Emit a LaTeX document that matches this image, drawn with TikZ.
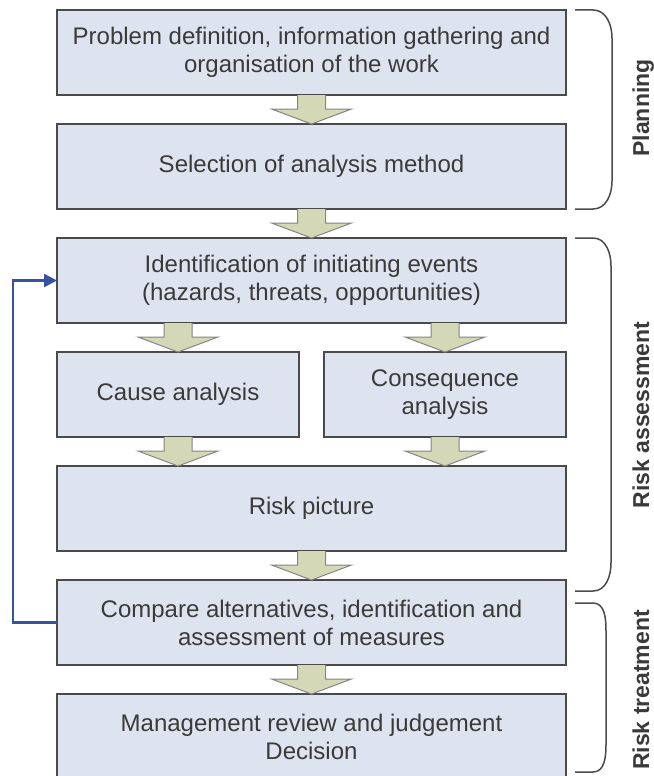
\documentclass[tikz,border=0pt]{standalone}
\usepackage{fontspec}
\setmainfont{Liberation Sans}
\usetikzlibrary{positioning,calc,arrows.meta}

\definecolor{boxfill}{HTML}{DDE4EF}
\definecolor{boxline}{HTML}{4A4A4A}
\definecolor{arrowfill}{HTML}{D5D8B7}
\definecolor{arrowline}{HTML}{858585}
\definecolor{loopblue}{HTML}{3553A0}
\definecolor{textgrey}{HTML}{3A3A3A}

% fat arrow between two boxes: column node, from, to
\newcommand{\blockarrow}[3]{%
  \filldraw[block arrow] ($(#1 |- #2.south)+(-14,0)$) -- ($(#1 |- #3.north)+(-14,-15)$)
    -- ($(#1 |- #3.north)+(-40,-15)$) -- (#1 |- #3.north) -- ($(#1 |- #3.north)+(40,-15)$)
    -- ($(#1 |- #3.north)+(14,-15)$) -- ($(#1 |- #2.south)+(14,0)$);}

% bracket on the right: top, bottom, x of the upright part
\newcommand{\phasebrace}[3]{%
  \draw[phase brace] (575,#1) -- (593,#1) to[out=0,in=90] (#3,#1+28) -- (#3,#2-28)
    to[out=-90,in=0] (593,#2) -- (575,#2);}

\begin{document}
\begin{tikzpicture}[x=1pt,y=-1pt,node distance=29pt,
    stage/.style={rectangle,draw=boxline,fill=boxfill,line width=1.5pt,text=textgrey,minimum width=509pt,minimum height=85pt,inner sep=0pt,outer sep=0pt,align=center,font=\fontsize{24}{28}\selectfont},
    half stage/.style={stage,minimum width=242pt},
    block arrow/.style={fill=arrowfill,draw=arrowline,line width=1pt},
    phase brace/.style={draw=boxline,line width=1.5pt},
    phase label/.style={rotate=90,anchor=base,text=textgrey,font=\fontsize{23}{27}\selectfont\bfseries},
    feedback/.style={draw=loopblue,line width=2.5pt,-{Triangle[length=13pt,width=13pt]}}]

    \useasboundingbox (0,0) rectangle (653,776);
    \clip (0,0) rectangle (653,776);

    \node[stage] (problem) at (311.5,52.5) {Problem definition, information gathering and\\organisation of the work};
    \node[stage] (method) [below=of problem] {Selection of analysis method};
    \node[stage] (events) [below=of method] {Identification of initiating events\\(hazards, threats, opportunities)};
    \node[half stage] (cause) [below=of events.south west,anchor=north west] {Cause analysis};
    \node[half stage] (consequence) [below=of events.south east,anchor=north east] {Consequence\\analysis};
    \node[stage] (picture) [below=of cause.south west,anchor=north west] {Risk picture};
    \node[stage] (measures) [below=of picture] {Compare alternatives, identification and\\assessment of measures};
    \node[stage] (decision) [below=of measures] {Management review and judgement\\Decision};

    \blockarrow{problem}{problem}{method}
    \blockarrow{method}{method}{events}
    \blockarrow{cause}{events}{cause}
    \blockarrow{consequence}{events}{consequence}
    \blockarrow{cause}{cause}{picture}
    \blockarrow{consequence}{consequence}{picture}
    \blockarrow{picture}{picture}{measures}
    \blockarrow{measures}{measures}{decision}

    \draw[feedback] (measures.west) -- ++(-44,0) |- (events.west);

    \phasebrace{10}{209}{612}
    \phasebrace{238}{591}{611}
    \phasebrace{603}{772}{606}

    \node[phase label] (planning) at (649,108) {Planning};
    \node[phase label] (assessment) at (649,415) {Risk assessment};
    \node[phase label] (treatment) at (649,690) {Risk treatment};
\end{tikzpicture}
\end{document}
